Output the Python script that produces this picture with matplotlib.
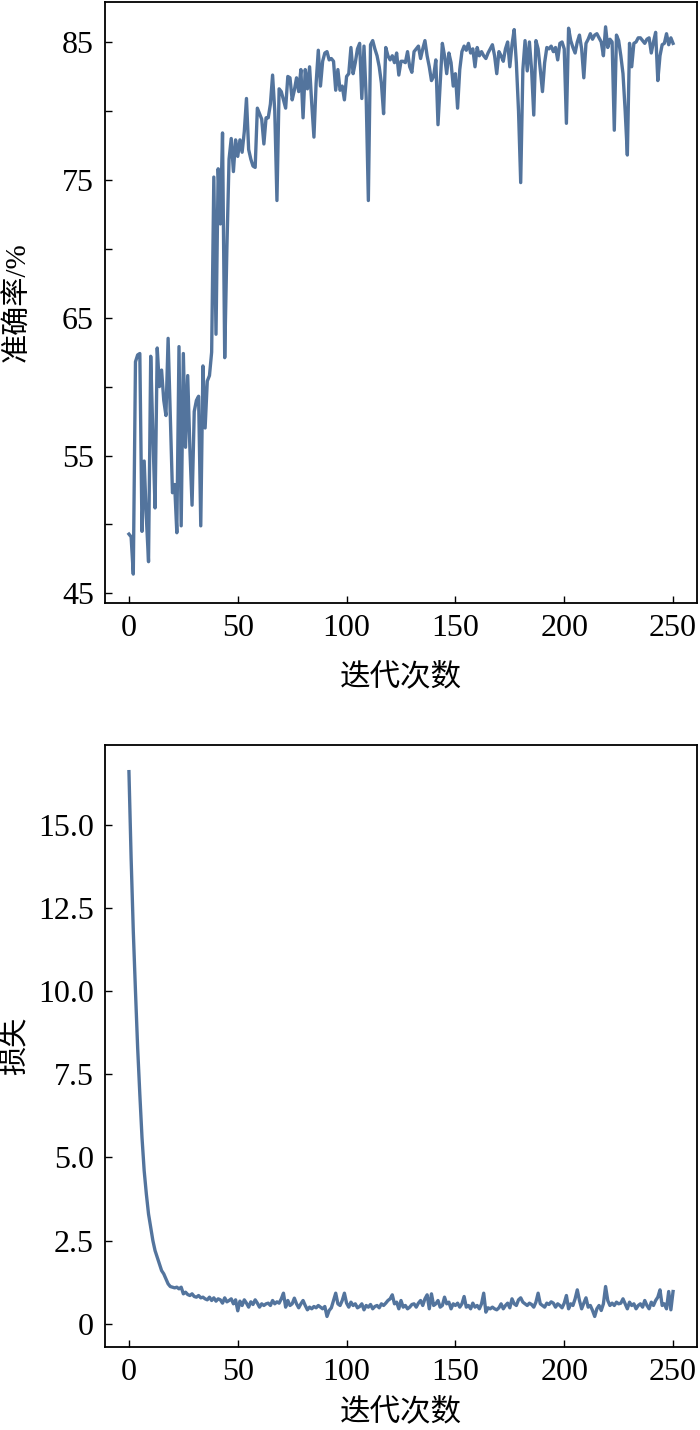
import matplotlib
matplotlib.use('Agg')
import matplotlib.pyplot as plt
from matplotlib.ticker import FixedLocator, FuncFormatter

plt.rcParams['font.family'] = ['Liberation Serif', 'Noto Sans CJK SC']
plt.rcParams['axes.unicode_minus'] = False

# 准确率（%），迭代 0..250
acc = [
    49.3, 49.1, 46.4, 61.8, 62.3, 62.4, 49.5, 54.6, 50.5, 47.3,
    62.2, 56.5, 51.2, 62.8, 60.0, 61.2, 59.0, 57.9, 63.5, 58.0,
    52.3, 52.9, 49.4, 62.9, 49.9, 62.4, 55.6, 60.8, 55.5, 51.4,
    58.2, 59.0, 59.3, 49.9, 61.5, 57.0, 60.4, 60.8, 62.5, 75.2,
    63.8, 75.8, 71.8, 78.4, 62.1, 70.0, 76.5, 78.0, 75.6, 77.9,
    76.7, 77.9, 77.0, 78.5, 80.9, 77.2, 76.5, 76.0, 75.9, 80.2,
    79.8, 79.4, 77.6, 79.5, 79.5, 80.5, 82.6, 80.0, 73.5, 81.6,
    81.4, 80.8, 80.2, 82.5, 82.4, 80.8, 81.5, 82.4, 81.4, 83.0,
    79.5, 83.0, 81.6, 83.2, 80.5, 78.1, 82.0, 84.4, 81.8, 83.6,
    84.2, 84.3, 83.7, 83.8, 83.6, 81.5, 83.0, 81.5, 81.8, 80.8,
    82.5, 82.7, 84.6, 82.7, 83.5, 84.5, 84.9, 80.9, 84.7, 81.0,
    73.5, 84.8, 85.1, 84.5, 84.0, 83.2, 82.0, 79.8, 84.6, 84.0,
    83.7, 84.0, 83.5, 84.2, 82.6, 83.6, 83.6, 83.5, 84.3, 83.2,
    82.8, 84.3, 84.5, 84.7, 83.8, 84.5, 85.1, 84.0, 83.2, 82.2,
    82.5, 83.7, 79.0, 82.0, 84.9, 84.0, 82.7, 84.2, 83.5, 81.8,
    82.7, 80.2, 83.0, 84.3, 84.7, 84.4, 84.9, 84.2, 84.5, 83.2,
    84.6, 84.0, 84.3, 84.0, 83.8, 84.2, 84.5, 84.8, 84.0, 82.7,
    84.3, 84.0, 83.6, 84.5, 85.0, 83.2, 84.8, 85.9, 83.5, 80.0,
    74.8, 83.0, 85.1, 82.9, 85.0, 83.0, 79.7, 85.1, 84.5, 83.0,
    81.4, 83.5, 84.6, 84.5, 84.7, 84.3, 84.6, 83.7, 84.9, 85.0,
    84.5, 79.1, 86.0, 85.1, 84.6, 84.2, 85.0, 85.5, 84.5, 82.4,
    84.9, 85.2, 85.6, 85.2, 85.5, 85.6, 85.3, 85.0, 84.0, 86.1,
    84.6, 85.2, 85.0, 78.6, 85.5, 85.1, 84.0, 82.7, 80.0, 76.8,
    84.9, 83.2, 84.9, 85.0, 85.3, 85.3, 85.1, 84.9, 85.2, 85.3,
    84.2, 85.0, 85.7, 82.2, 84.0, 84.8, 84.9, 85.6, 84.8, 85.3,
    84.9,
]

# 损失，迭代 0..250
loss = [
    16.6, 14.0, 11.8, 10.0, 8.3, 6.9, 5.6, 4.6, 3.9, 3.3,
    2.9, 2.5, 2.2, 2.0, 1.8, 1.6, 1.5, 1.35, 1.2, 1.12,
    1.1, 1.08, 1.1, 1.05, 1.1, 0.9, 0.95, 0.88, 0.85, 0.9,
    0.82, 0.8, 0.85, 0.78, 0.8, 0.75, 0.72, 0.8, 0.7, 0.78,
    0.68, 0.75, 0.72, 0.62, 0.78, 0.66, 0.7, 0.75, 0.6, 0.72,
    0.39, 0.68, 0.55, 0.72, 0.62, 0.5, 0.66, 0.58, 0.72, 0.62,
    0.5, 0.6, 0.55, 0.6, 0.62, 0.55, 0.7, 0.6, 0.66, 0.62,
    0.75, 0.92, 0.5, 0.7, 0.55, 0.6, 0.77, 0.6, 0.48, 0.6,
    0.7, 0.55, 0.42, 0.5, 0.45, 0.52, 0.48, 0.55, 0.5, 0.45,
    0.52, 0.22, 0.4, 0.48, 0.7, 0.92, 0.6, 0.55, 0.7, 0.92,
    0.62, 0.5, 0.65, 0.55, 0.6, 0.48, 0.52, 0.6, 0.42, 0.55,
    0.5, 0.58, 0.45, 0.52, 0.55, 0.48, 0.6, 0.55, 0.62, 0.7,
    0.75, 0.87, 0.6, 0.65, 0.45, 0.7, 0.5, 0.55, 0.45, 0.5,
    0.58, 0.6, 0.5, 0.62, 0.7, 0.55, 0.75, 0.87, 0.45, 0.9,
    0.55, 0.6, 0.7, 0.5, 0.55, 0.8, 0.6, 0.65, 0.45, 0.6,
    0.55, 0.62, 0.5, 0.6, 0.82, 0.5, 0.55, 0.45, 0.62, 0.5,
    0.55, 0.45, 0.6, 0.92, 0.35, 0.48, 0.45, 0.5, 0.45, 0.42,
    0.48, 0.6, 0.45, 0.55, 0.62, 0.48, 0.75, 0.6, 0.55, 0.72,
    0.78, 0.65, 0.6, 0.55, 0.62, 0.58, 0.5, 0.65, 0.92, 0.6,
    0.55, 0.5, 0.62, 0.58, 0.66, 0.62, 0.5, 0.6, 0.55, 0.48,
    0.62, 0.85, 0.45, 0.6, 0.55, 0.75, 1.02, 0.7, 0.45, 0.62,
    0.78, 0.5, 0.55, 0.4, 0.22, 0.45, 0.55, 0.4, 0.6, 1.12,
    0.7, 0.55, 0.62, 0.55, 0.65, 0.6, 0.62, 0.75, 0.6, 0.45,
    0.65, 0.55, 0.6, 0.45, 0.55, 0.6, 0.5, 0.7, 0.55, 0.45,
    0.65, 0.55, 0.7, 0.8, 1.02, 0.55, 0.6, 0.45, 0.97, 0.42,
    0.97,
]

iters = list(range(len(acc)))
x_ticks = [0, 50, 100, 150, 200, 250]
acc_ticks = [45, 55, 65, 75, 85]
acc_minor = [50, 60, 70, 80]
loss_ticks = [0, 2.5, 5.0, 7.5, 10.0, 12.5, 15.0]

LINE_COLOR = '#4A6D98'


def style_axes(ax):
    for sp in ax.spines.values():
        sp.set_linewidth(1.3)
        sp.set_color('black')
    ax.tick_params(which='both', direction='in', length=5, width=1.0,
                   labelsize=23, pad=8, top=False, right=False)


fig = plt.figure(figsize=(7, 14.3), dpi=100)

# 准确率
ax1 = fig.add_axes([0.15, 0.5783, 0.8457, 0.4203])
ax1.plot(iters, acc, color=LINE_COLOR, lw=2.4, alpha=0.95)
ax1.set_xlim(-11, 261)
ax1.set_ylim(44.3, 87.9)
ax1.yaxis.set_major_locator(FixedLocator(acc_ticks))
ax1.yaxis.set_minor_locator(FixedLocator(acc_minor))
ax1.xaxis.set_major_locator(FixedLocator(x_ticks))
ax1.set_xlabel('迭代次数', fontsize=22)
ax1.set_ylabel('准确率/%', fontsize=21)
ax1.xaxis.set_label_coords(0.5, -0.10)
ax1.yaxis.set_label_coords(-0.125, 0.5)
style_axes(ax1)

# 损失
ax2 = fig.add_axes([0.15, 0.0580, 0.8457, 0.4210])
ax2.plot(range(len(loss)), loss, color=LINE_COLOR, lw=2.4, alpha=0.95)
ax2.set_xlim(-11, 261)
ax2.set_ylim(-0.7, 17.4)
ax2.yaxis.set_major_locator(FixedLocator(loss_ticks))
ax2.yaxis.set_major_formatter(FuncFormatter(lambda v, p: '0' if v == 0 else f'{v:.1f}'))
ax2.xaxis.set_major_locator(FixedLocator(x_ticks))
ax2.set_xlabel('迭代次数', fontsize=22)
ax2.set_ylabel('损失', fontsize=21)
ax2.xaxis.set_label_coords(0.5, -0.085)
ax2.yaxis.set_label_coords(-0.127, 0.5)
style_axes(ax2)

fig.savefig('out.png', dpi=100)
plt.close('all')
